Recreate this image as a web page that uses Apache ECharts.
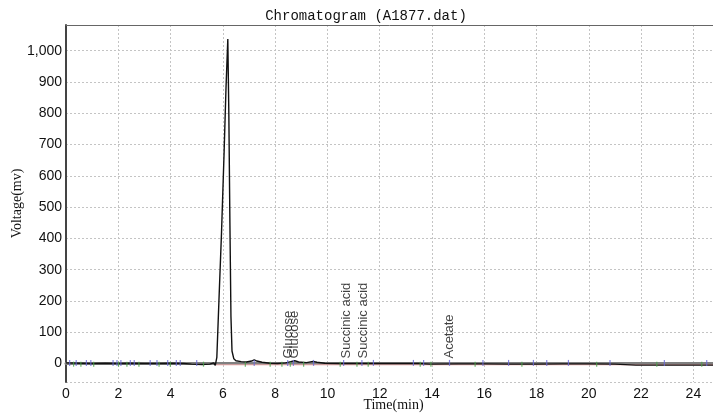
<!DOCTYPE html>
<html>
<head>
<meta charset="utf-8">
<script src="https://cdn.jsdelivr.net/npm/echarts@6/dist/echarts.min.js"></script>
<style>
  html, body { margin: 0; padding: 0; background: #fff; }
  #chart { width: 713px; height: 415px; }
</style>
</head>
<body>
<div id="chart"></div>
<script>
// detector trace
var traceTime = [0, 0.5, 1, 1.5, 2, 2.5, 3, 3.5, 4, 4.5, 4.8, 5.2, 5.5, 5.65, 5.71, 5.77, 5.85, 5.95, 6.05, 6.12, 6.19, 6.23, 6.27, 6.31, 6.35, 6.42, 6.5, 6.7, 6.9, 7.1, 7.2, 7.3, 7.5, 7.8, 8.1, 8.4, 8.6, 8.75, 8.9, 9.2, 9.45, 9.6, 9.9, 10.5, 11.5, 12.5, 13.5, 13.9, 15, 16, 17, 18, 19, 20, 21, 21.8, 23, 24.75];
var traceMv = [2, 1, 0, 1, 0, 1, 0, 0, 1, 0, -2, -3, -2, 2, -6, 20, 200, 420, 680, 880, 1037, 790, 450, 150, 40, 15, 9, 6, 5, 8, 12, 8, 4, 1, 0, 2, 6, 9, 5, 3, 7, 4, 1, 0, 0, 0, 0, -2, -1, -1, -2, -2, -1, -1, -2, -5, -5, -5];

// integration baseline
var baseTime = [5.71, 24.75];
var baseMv = [-4, -4];

// peak start / end markers
var blueMarks = [0.14, 0.39, 0.78, 0.95, 1.8, 1.95, 2.1, 2.46, 2.61, 3.22, 3.48, 3.89, 4.22, 4.37, 5.0, 7.2, 8.48, 8.7, 9.47, 10.62, 11.32, 11.76, 13.29, 13.68, 14.67, 15.95, 16.93, 17.88, 18.39, 19.22, 20.81, 22.89, 24.51];
var greenMarks = [0.29, 0.57, 1.06, 2.01, 2.33, 2.79, 3.56, 3.99, 5.26, 6.86, 7.81, 8.26, 8.58, 9.09, 10.49, 11.13, 11.56, 13.55, 13.96, 15.65, 17.44, 20.3, 22.6, 24.32];

// peak names
var peakNames = ["Glucose", "Glucose", "Succinic acid", "Succinic acid", "Acetate"];
var peakTime = [8.51, 8.73, 10.72, 11.38, 14.66];

var chart = echarts.init(document.getElementById("chart"));

function pairs(xs, ys) {
  return xs.map(function (x, i) { return [x, ys[i]]; });
}

var option = {
  animation: false,
  title: {
    text: "Chromatogram (A1877.dat)",
    left: 361,
    textAlign: "center",
    top: 4,
    textStyle: { fontFamily: "Liberation Mono", fontWeight: "normal", fontSize: 14, color: "#111" }
  },
  grid: { left: 66, right: 0, top: 25, bottom: 33, outerBoundsMode: "none" },
  xAxis: [
    {
      type: "value",
      min: 0,
      max: 24.75,
      interval: 2,
      name: "Time(min)",
      nameLocation: "middle",
      nameGap: 16,
      nameMoveOverlap: false,
      nameTextStyle: { fontFamily: "Liberation Serif", fontSize: 14, color: "#111", padding: [0, 0, 0, 8] },
      axisLine: { lineStyle: { color: "#808080", width: 3 } },
      axisTick: { show: false },
      axisLabel: { showMaxLabel: false, margin: 5, fontFamily: "Liberation Sans", fontSize: 14, color: "#111" },
      splitLine: { lineStyle: { color: "#c4c4c4", type: [2, 2], width: 1 } }
    },
    {
      type: "value",
      position: "top",
      min: 0,
      max: 24.75,
      axisLine: { lineStyle: { color: "#666", width: 1 } },
      axisTick: { show: false },
      axisLabel: { show: false },
      splitLine: { show: false }
    }
  ],
  yAxis: {
    type: "value",
    min: -59,
    max: 1082,
    splitNumber: 11,
    minInterval: 100,
    maxInterval: 100,
    name: "Voltage(mv)",
    nameLocation: "middle",
    nameGap: 42,
    nameMoveOverlap: false,
    nameTextStyle: { fontFamily: "Liberation Serif", fontSize: 14, color: "#111" },
    axisLine: { show: true, lineStyle: { color: "#444", width: 2 } },
    axisTick: { show: false },
    axisLabel: {
      showMinLabel: false,
      showMaxLabel: false,
      margin: 4,
      fontFamily: "Liberation Sans",
      fontSize: 14,
      color: "#111",
      formatter: function (v) { return v.toLocaleString("en-US"); }
    },
    splitLine: { lineStyle: { color: "#c4c4c4", type: [2, 2], width: 1 } }
  },
  series: [
    {
      type: "line",
      data: pairs(baseTime, baseMv),
      symbol: "none",
      lineStyle: { color: "#e8a8a8", width: 1 },
      z: 1
    },
    {
      type: "line",
      data: pairs(traceTime, traceMv),
      symbol: "none",
      lineStyle: { color: "#111", width: 1.4 },
      z: 3
    },
    {
      type: "scatter",
      data: blueMarks.map(function (t) { return [t, 2]; }),
      symbol: "rect",
      symbolSize: [1.2, 6],
      itemStyle: { color: "#6a6ad8" },
      z: 4
    },
    {
      type: "scatter",
      data: greenMarks.map(function (t) { return [t, -2]; }),
      symbol: "rect",
      symbolSize: [1.2, 5],
      itemStyle: { color: "#4aa04a" },
      z: 4
    },
    {
      type: "scatter",
      data: peakTime.map(function (t, i) { return { name: peakNames[i], value: [t, 16] }; }),
      symbolSize: 0,
      label: {
        show: true,
        formatter: "{b}",
        position: "top",
        distance: 0,
        rotate: 90,
        align: "left",
        verticalAlign: "middle",
        fontFamily: "Liberation Sans",
        fontSize: 13,
        color: "#111"
      },
      z: 5
    }
  ]
};

chart.setOption(option);
</script>
</body>
</html>
